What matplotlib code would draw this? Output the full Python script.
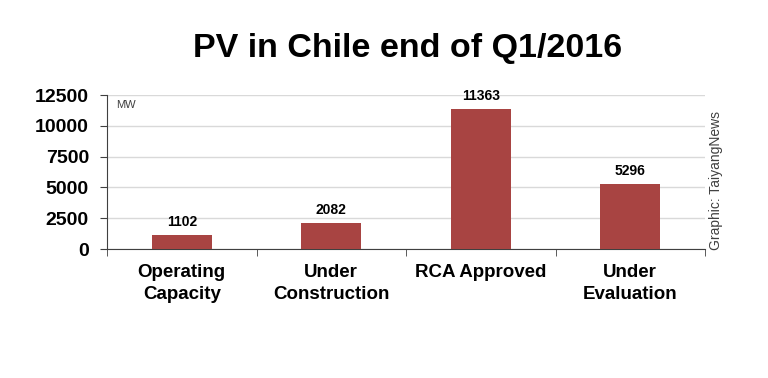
import matplotlib
matplotlib.use("Agg")
import matplotlib.pyplot as plt

# 数据
categories = ["Operating\nCapacity", "Under\nConstruction", "RCA Approved", "Under\nEvaluation"]
values = [1102, 2082, 11363, 5296]
y_ticks = [0, 2500, 5000, 7500, 10000, 12500]

plt.rcParams["font.family"] = ["Liberation Sans", "DejaVu Sans"]

fig = plt.figure(figsize=(7.68, 3.78), dpi=100)
ax = fig.add_axes([107 / 768, (378 - 249) / 378, 598 / 768, 154 / 378])

x = range(len(values))
ax.bar(x, values, width=0.4, color="#A84442", zorder=3)

# 显示数字
for i, v in enumerate(values):
    ax.text(i, v + 500, str(v), ha="center", va="bottom", fontsize=10, fontweight="bold")

ax.set_xlim(-0.5, len(values) - 0.5)
ax.set_ylim(0, 12500)
ax.set_yticks(y_ticks)
ax.set_yticklabels([str(t) for t in y_ticks], fontsize=14, fontweight="bold")
ax.yaxis.grid(True, color="#d9d9d9", linewidth=1, zorder=0)

ax.set_xticks(list(x))
ax.set_xticklabels(categories, fontsize=13.5, fontweight="bold", linespacing=1.35)
ax.tick_params(axis="x", length=0, pad=11)
ax.set_xticks([i - 0.5 for i in range(len(values) + 1)], minor=True)
ax.tick_params(axis="x", which="minor", length=5, color="#404040")
ax.tick_params(axis="y", length=5, color="#404040", pad=8)

for side in ["top", "right"]:
    ax.spines[side].set_visible(False)
for side in ["left", "bottom"]:
    ax.spines[side].set_color("#404040")

ax.text(0.015, 0.97, "MW", transform=ax.transAxes, fontsize=8, color="#404040", va="top")

fig.text(408 / 768, 1 - 48 / 378, "PV in Chile end of Q1/2016", ha="center", va="center",
         fontsize=24.5, fontweight="bold")
fig.text(716 / 768, 1 - 180 / 378, "Graphic: TaiyangNews", rotation=90, ha="center", va="center",
         fontsize=10, color="#404040")

plt.savefig("out.png", dpi=100)
plt.close()
